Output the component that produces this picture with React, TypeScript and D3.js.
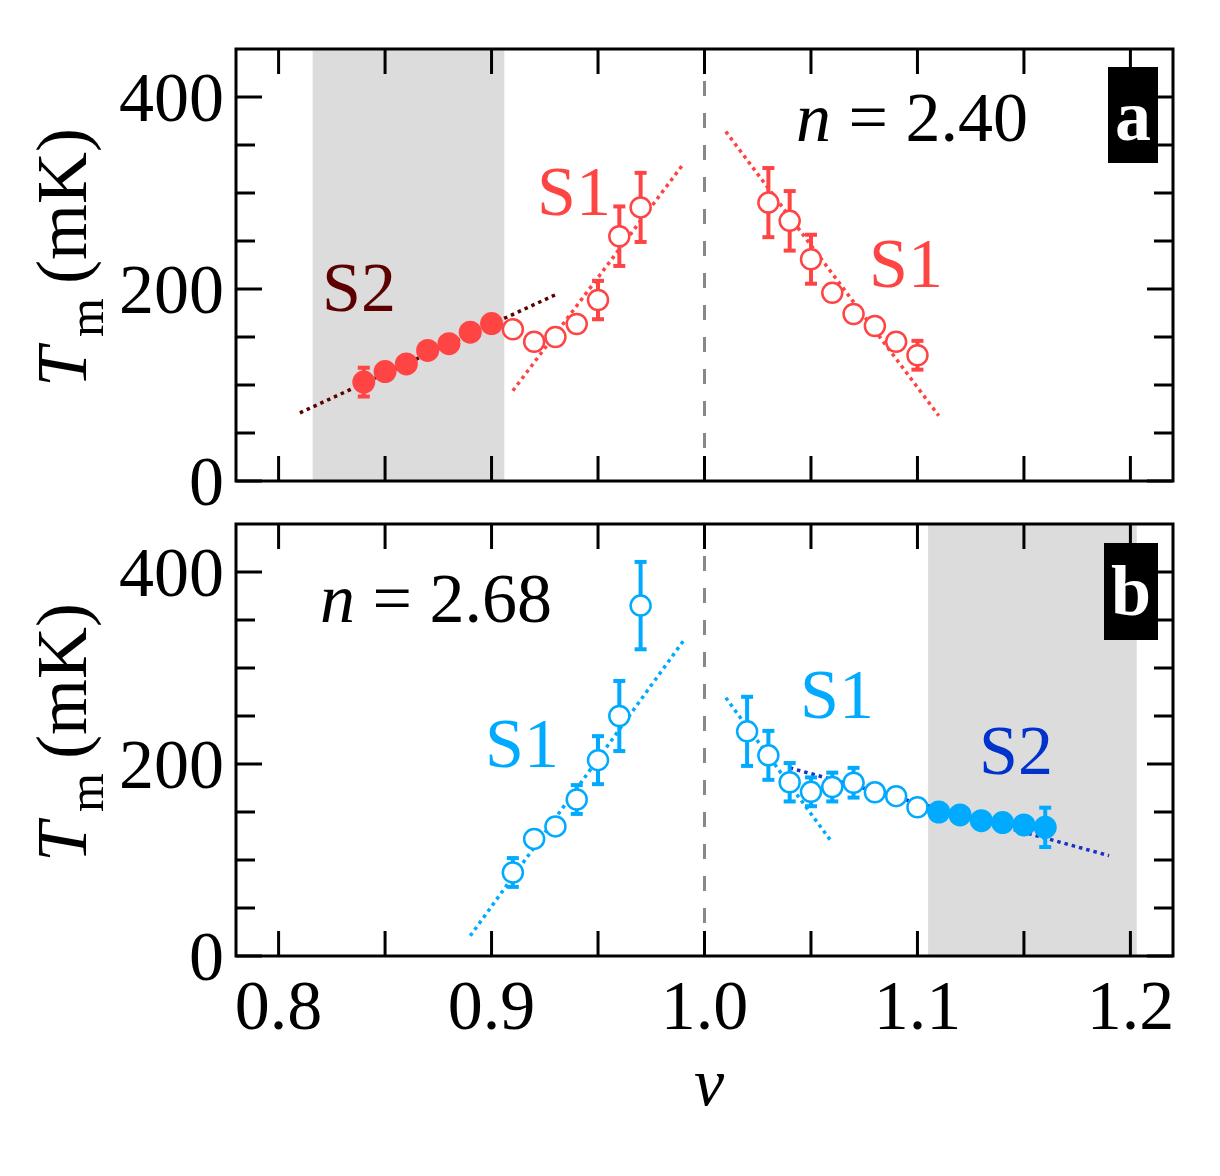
import React from "react";
import * as d3 from "d3";

// ---------- data ----------
const nuTickValues = [0.8, 0.9, 1.0, 1.1, 1.2];
const nuTickLabels = ["0.8", "0.9", "1.0", "1.1", "1.2"];
const nuMinorTicks = [0.8, 0.85, 0.9, 0.95, 1.0, 1.05, 1.1, 1.15, 1.2];
const tMajorTicks = [0, 200, 400];
const tTickLabels = ["0", "200", "400"];
const tMinorTicks = [50, 100, 150, 250, 300, 350];

// panel a (n = 2.40)
const aBand = [0.816, 0.906];
const aS2Nu = [0.84, 0.85, 0.86, 0.87, 0.88, 0.89, 0.9];
const aS2T = [103, 114, 122, 136, 143, 155, 164];
const aS2Err = [15, 0, 0, 0, 0, 0, 0];
const aS1LeftNu = [0.91, 0.92, 0.93, 0.94, 0.95, 0.96, 0.97];
const aS1LeftT = [158, 145, 150, 163.5, 188.5, 255, 285];
const aS1LeftErr = [0, 0, 0, 0, 20, 31, 36];
const aS1RightNu = [1.03, 1.04, 1.05, 1.06, 1.07, 1.08, 1.09, 1.1];
const aS1RightT = [290, 271, 231, 196, 174, 161.5, 145, 131];
const aS1RightErr = [36, 31, 25.5, 0, 0, 0, 0, 15];
const aFitS2 = [[0.81, 71], [0.93, 194]];
const aFitS1Left = [[0.91, 94], [0.99, 330]];
const aFitS1Right = [[1.01, 364], [1.11, 68]];

// panel b (n = 2.68)
const bBand = [1.105, 1.203];
const bS1LeftNu = [0.91, 0.92, 0.93, 0.94, 0.95, 0.96, 0.97];
const bS1LeftT = [87, 122, 135, 163, 204, 250, 365];
const bS1LeftErr = [15, 0, 0, 15, 25, 36.5, 45.5];
const bS1RightNu = [1.02, 1.03, 1.04, 1.05, 1.06, 1.07, 1.08, 1.09, 1.1];
const bS1RightT = [234, 209, 181, 171, 176, 180.5, 170.5, 166.5, 155];
const bS1RightErr = [36, 25.5, 20, 15, 15, 15.5, 0, 0, 0];
const bS2Nu = [1.11, 1.12, 1.13, 1.14, 1.15, 1.16];
const bS2T = [150, 147, 141, 139, 136.5, 134];
const bS2Err = [0, 0, 0, 0, 0, 20.5];
const bFitS1Left = [[0.89, 21], [0.99, 328]];
const bFitS1Right = [[1.01, 269], [1.06, 118]];
const bFitS2 = [[1.04, 196], [1.19, 104.5]];

// ---------- style ----------
const RED = "#ff4444";
const DARKRED = "#5c0000";
const BLUE = "#00aaff";
const DARKBLUE = "#0033cc";
const DARKBLUE_LINE = "#1a30c0";
const FONT = "Liberation Serif, DejaVu Serif, Tinos, serif";

const W = 1220;
const H = 1176;
const X0 = 236;
const X1 = 1173;
const PANEL_H = 432;

const x = d3.scaleLinear().domain([0.78, 1.22]).range([X0, X1]);

type Series = { nu: number[]; t: number[]; err: number[]; color: string; filled: boolean };
type Fit = { pts: number[][]; color: string };
type Label = { text: string; x: number; y: number; color: string };

function Panel(props: {
  top: number;
  band: number[];
  series: Series[];
  fits: Fit[];
  labels: Label[];
  nText: string;
  nX: number;
  nY: number;
  letter: string;
  box: number[];
  letterX: number;
  letterY: number;
  showXLabels: boolean;
}) {
  const { top } = props;
  const y = d3.scaleLinear().domain([0, 450]).range([top + PANEL_H, top]);
  const line = d3
    .line<number[]>()
    .x((d) => x(d[0]))
    .y((d) => y(d[1]));
  const bottom = top + PANEL_H;
  return (
    <g>
      <clipPath id={"clip" + props.letter}>
        <rect x={X0} y={top} width={X1 - X0} height={PANEL_H} />
      </clipPath>
      <rect
        x={x(props.band[0])}
        y={top}
        width={x(props.band[1]) - x(props.band[0])}
        height={PANEL_H}
        fill="#dcdcdc"
      />
      <line
        x1={x(1.0)}
        x2={x(1.0)}
        y1={top}
        y2={bottom}
        stroke="#888"
        strokeWidth={3}
        strokeDasharray="15 17"
      />
      <g clipPath={`url(#clip${props.letter})`}>
        {props.fits.map((f, i) => (
          <path
            key={i}
            d={line(f.pts) || ""}
            fill="none"
            stroke={f.color}
            strokeWidth={3.5}
            strokeDasharray="3.5 4"
          />
        ))}
      </g>
      {props.series.map((s, si) => (
        <g key={si}>
          {s.nu.map((nu, i) =>
            s.err[i] > 0 ? (
              <g key={i} stroke={s.color}>
                <line x1={x(nu)} x2={x(nu)} y1={y(s.t[i] - s.err[i])} y2={y(s.t[i] + s.err[i])} strokeWidth={4} />
                <line x1={x(nu) - 6} x2={x(nu) + 6} y1={y(s.t[i] - s.err[i])} y2={y(s.t[i] - s.err[i])} strokeWidth={4} />
                <line x1={x(nu) - 6} x2={x(nu) + 6} y1={y(s.t[i] + s.err[i])} y2={y(s.t[i] + s.err[i])} strokeWidth={4} />
              </g>
            ) : null
          )}
          {s.nu.map((nu, i) =>
            s.filled ? (
              <circle key={"c" + i} cx={x(nu)} cy={y(s.t[i])} r={11.5} fill={s.color} />
            ) : (
              <circle key={"c" + i} cx={x(nu)} cy={y(s.t[i])} r={10} fill="#fff" stroke={s.color} strokeWidth={2.5} />
            )
          )}
        </g>
      ))}
      {props.labels.map((l, i) => (
        <text key={i} x={l.x} y={l.y} fill={l.color} fontFamily={FONT} fontSize={70}>
          {l.text}
        </text>
      ))}
      <text x={props.nX} y={props.nY} fontFamily={FONT} fontSize={70} fill="#000" style={{ whiteSpace: "pre" }}>
        <tspan fontStyle="italic">n</tspan>
        <tspan>{" = " + props.nText}</tspan>
      </text>
      {/* ticks */}
      <g stroke="#000" strokeWidth={3}>
        {nuMinorTicks.map((v, i) => (
          <g key={i}>
            <line x1={x(v)} x2={x(v)} y1={bottom} y2={bottom - 25} />
            <line x1={x(v)} x2={x(v)} y1={top} y2={top + 25} />
          </g>
        ))}
        {tMajorTicks.map((v, i) => (
          <g key={"M" + i}>
            <line x1={X0} x2={X0 + 26} y1={y(v)} y2={y(v)} />
            <line x1={X1} x2={X1 - 26} y1={y(v)} y2={y(v)} />
          </g>
        ))}
        {tMinorTicks.map((v, i) => (
          <g key={"m" + i}>
            <line x1={X0} x2={X0 + 19} y1={y(v)} y2={y(v)} />
            <line x1={X1} x2={X1 - 19} y1={y(v)} y2={y(v)} />
          </g>
        ))}
      </g>
      <rect x={X0} y={top} width={X1 - X0} height={PANEL_H} fill="none" stroke="#000" strokeWidth={3} />
      <rect x={props.box[0]} y={props.box[1]} width={props.box[2]} height={props.box[3]} fill="#000" />
      <text
        x={props.letterX}
        y={props.letterY}
        textAnchor="middle"
        fill="#fff"
        fontFamily={FONT}
        fontWeight="bold"
        fontSize={72}
      >
        {props.letter}
      </text>
      {/* y tick labels */}
      {tMajorTicks.map((v, i) => (
        <text key={"yl" + i} x={224} y={y(v) + 24} textAnchor="end" fontFamily={FONT} fontSize={70} fill="#000">
          {tTickLabels[i]}
        </text>
      ))}
      {/* y axis label */}
      <text transform={`translate(86, ${top + 338}) rotate(-90)`} fontFamily={FONT} fontSize={72} fill="#000">
        <tspan fontStyle="italic">T</tspan>
        <tspan fontSize={50} dx={10} dy={17}>
          m
        </tspan>
        <tspan dx={14} dy={-17}>
          (mK)
        </tspan>
      </text>
      {props.showXLabels &&
        nuTickValues.map((v, i) => (
          <text key={"xl" + i} x={x(v)} y={1029} textAnchor="middle" fontFamily={FONT} fontSize={70} fill="#000">
            {nuTickLabels[i]}
          </text>
        ))}
    </g>
  );
}

export default function App() {
  return (
    <svg
      width={W}
      height={H}
      viewBox={`0 0 ${W} ${H}`}
      style={{ position: "absolute", left: 0, top: 0, background: "#fff" }}
    >
      <rect x={0} y={0} width={W} height={H} fill="#fff" />
      <Panel
        top={49}
        band={aBand}
        series={[
          { nu: aS2Nu, t: aS2T, err: aS2Err, color: RED, filled: true },
          { nu: aS1LeftNu, t: aS1LeftT, err: aS1LeftErr, color: RED, filled: false },
          { nu: aS1RightNu, t: aS1RightT, err: aS1RightErr, color: RED, filled: false },
        ]}
        fits={[
          { pts: aFitS2, color: DARKRED },
          { pts: aFitS1Left, color: RED },
          { pts: aFitS1Right, color: RED },
        ]}
        labels={[
          { text: "S2", x: 322, y: 311, color: DARKRED },
          { text: "S1", x: 537, y: 215, color: RED },
          { text: "S1", x: 869, y: 287, color: RED },
        ]}
        nText="2.40"
        nX={796}
        nY={141}
        letter="a"
        box={[1108, 67, 50, 96]}
        letterX={1133}
        letterY={140}
        showXLabels={false}
      />
      <Panel
        top={524}
        band={bBand}
        series={[
          { nu: bS1LeftNu, t: bS1LeftT, err: bS1LeftErr, color: BLUE, filled: false },
          { nu: bS1RightNu, t: bS1RightT, err: bS1RightErr, color: BLUE, filled: false },
          { nu: bS2Nu, t: bS2T, err: bS2Err, color: BLUE, filled: true },
        ]}
        fits={[
          { pts: bFitS1Left, color: BLUE },
          { pts: bFitS1Right, color: BLUE },
          { pts: bFitS2, color: DARKBLUE_LINE },
        ]}
        labels={[
          { text: "S1", x: 485, y: 767, color: BLUE },
          { text: "S1", x: 800, y: 718, color: BLUE },
          { text: "S2", x: 979, y: 774, color: DARKBLUE },
        ]}
        nText="2.68"
        nX={320}
        nY={622}
        letter="b"
        box={[1104, 543, 54, 97]}
        letterX={1131}
        letterY={615}
        showXLabels={true}
      />
      <text x={709} y={1105} textAnchor="middle" fontFamily={FONT} fontStyle="italic" fontSize={68} fill="#000">
        ν
      </text>
    </svg>
  );
}
